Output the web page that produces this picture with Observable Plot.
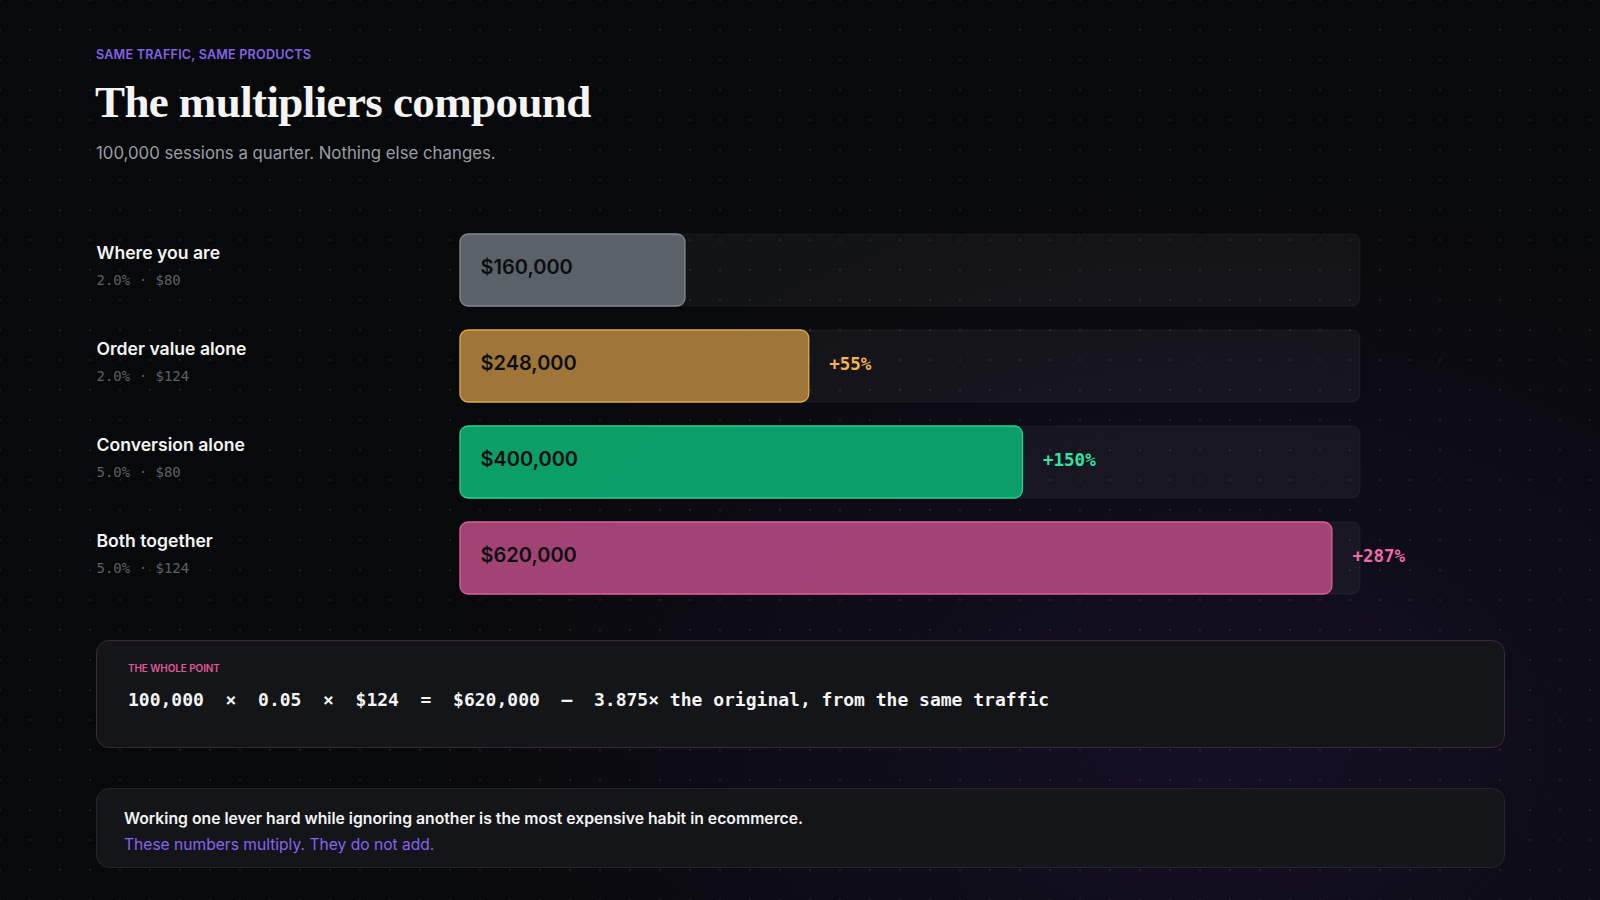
<!DOCTYPE html>
<html>
<head>
<meta charset="utf-8">
<script src="https://cdn.jsdelivr.net/npm/d3@7"></script>
<script src="https://cdn.jsdelivr.net/npm/@observablehq/plot@0.6"></script>
<style>
  html, body { margin: 0; padding: 0; width: 1600px; height: 900px; overflow: hidden; }
  body {
    background-color: #08090b;
    background-image:
      radial-gradient(circle, rgba(255,255,255,0.08) 1.1px, transparent 1.6px),
      radial-gradient(ellipse 800px 560px at 1220px 740px, rgba(72,40,140,0.2), rgba(72,40,140,0) 100%);
    background-size: 30px 30px, 1600px 900px;
    background-position: 15px 15px, 0 0;
    background-repeat: repeat, no-repeat;
    font-family: Inter, "Noto Sans", sans-serif;
    position: relative;
  }
  .abs { position: absolute; white-space: nowrap; }
  .eyebrow { left: 96px; top: 47px; font-size: 12.6px; line-height: 16px; font-weight: 600; color: #8462e6; letter-spacing: 0.2px; }
  .title { left: 95px; top: 80px; font-family: "Liberation Serif", serif; font-size: 45px; line-height: 45px; font-weight: 700; color: #f4f4f5; letter-spacing: -0.6px; }
  .subtitle { left: 96px; top: 143px; font-size: 16.8px; line-height: 20px; color: #9a9ea6; }
  #chart { position: absolute; left: 0; top: 222px; }
  .box { position: absolute; left: 96px; width: 1409px; box-sizing: border-box; border-radius: 13px; background: #131518; }
  .box1 { top: 640px; height: 108px; border: 1px solid #3d2838; }
  .box2 { top: 788px; height: 80px; border: 1px solid #24272c; }
  .kicker { left: 31px; top: 20px; font-size: 10px; line-height: 14px; font-weight: 600; color: #e0579a; letter-spacing: -0.1px; }
  .formula { left: 31px; top: 47px; font-family: "DejaVu Sans Mono", monospace; font-size: 18px; line-height: 24px; font-weight: 700; color: #f4f4f5; white-space: pre; }
  .note1 { left: 27px; top: 19px; font-size: 15.75px; line-height: 22px; font-weight: 600; color: #f4f4f5; }
  .note2 { left: 27px; top: 45px; font-size: 15.6px; line-height: 22px; font-weight: 400; color: #8a63f0; }
</style>
</head>
<body>
<div class="abs eyebrow">SAME TRAFFIC, SAME PRODUCTS</div>
<div class="abs title">The multipliers compound</div>
<div class="abs subtitle">100,000 sessions a quarter. Nothing else changes.</div>
<div id="chart"></div>
<div class="box box1">
  <div class="abs kicker">THE WHOLE POINT</div>
  <div class="abs formula">100,000  ×  0.05  ×  $124  =  $620,000  —  3.875× the original, from the same traffic</div>
</div>
<div class="box box2">
  <div class="abs note1">Working one lever hard while ignoring another is the most expensive habit in ecommerce.</div>
  <div class="abs note2">These numbers multiply. They do not add.</div>
</div>
<script>
// ---- data ----
const scenarios = ["Where you are", "Order value alone", "Conversion alone", "Both together"];
const conversionRates = ["2.0%", "2.0%", "5.0%", "5.0%"];
const orderValues = ["$80", "$124", "$80", "$124"];
const revenue = [160000, 248000, 400000, 620000];
const lifts = ["", "+55%", "+150%", "+287%"];
const scaleMax = 640000;

// ---- styles ----
const barFills = ["#5f656d", "#a57b3a", "#0ba46b", "#a8467a"];
const barStrokes = ["#82878f", "#dcaa4e", "#26cf8f", "#dc5f9c"];
const liftColors = ["#9ca3af", "#f5b54a", "#34e3a0", "#ee6aa8"];

const rows = scenarios.map((s, i) => ({
  scenario: s,
  sub: `${conversionRates[i]} · ${orderValues[i]}`,
  revenue: revenue[i],
  label: "$" + d3.format(",")(revenue[i]),
  lift: lifts[i]
}));

const chart = Plot.plot({
  width: 1600,
  height: 384,
  marginLeft: 460,
  marginRight: 240,
  marginTop: 0,
  marginBottom: 0,
  style: { background: "transparent", overflow: "visible", fontFamily: "Inter, sans-serif" },
  x: { domain: [0, scaleMax], axis: null },
  y: { domain: scenarios, axis: null, paddingInner: 0.25, paddingOuter: 0.125 },
  color: { domain: scenarios, range: barFills },
  marks: [
    // track
    Plot.barX(rows, { y: "scenario", x1: 0, x2: scaleMax, fill: "rgba(255,255,255,0.045)", stroke: "rgba(255,255,255,0.055)", strokeWidth: 1, rx: 8 }),
    // value bar
    Plot.barX(rows, {
      y: "scenario", x1: 0, x2: "revenue",
      fill: "scenario", fillOpacity: 0.96,
      stroke: d => barStrokes[scenarios.indexOf(d.scenario)], strokeWidth: 1.3,
      rx: 8
    }),
    // value label
    Plot.text(rows, { y: "scenario", x: 0, dx: 20, dy: -3, text: "label", textAnchor: "start", fontSize: 20, fontWeight: 600, fill: "#0d0e10" }),
    // lift label
    Plot.text(rows, {
      y: "scenario", x: "revenue", dx: 20, dy: -2, text: "lift", textAnchor: "start",
      fontSize: 17.5, fontWeight: 700, fontFamily: "DejaVu Sans Mono, monospace",
      fill: d => liftColors[scenarios.indexOf(d.scenario)]
    }),
    // row labels
    Plot.text(rows, { y: "scenario", frameAnchor: "left", dx: -364, dy: -17, text: "scenario", textAnchor: "start", fontSize: 17.6, fontWeight: 600, fill: "#f4f4f5" }),
    Plot.text(rows, { y: "scenario", frameAnchor: "left", dx: -364, dy: 10, text: "sub", textAnchor: "start", fontSize: 14, fontFamily: "DejaVu Sans Mono, monospace", fill: "#5c6169" })
  ]
});
document.getElementById("chart").appendChild(chart);
</script>
</body>
</html>
